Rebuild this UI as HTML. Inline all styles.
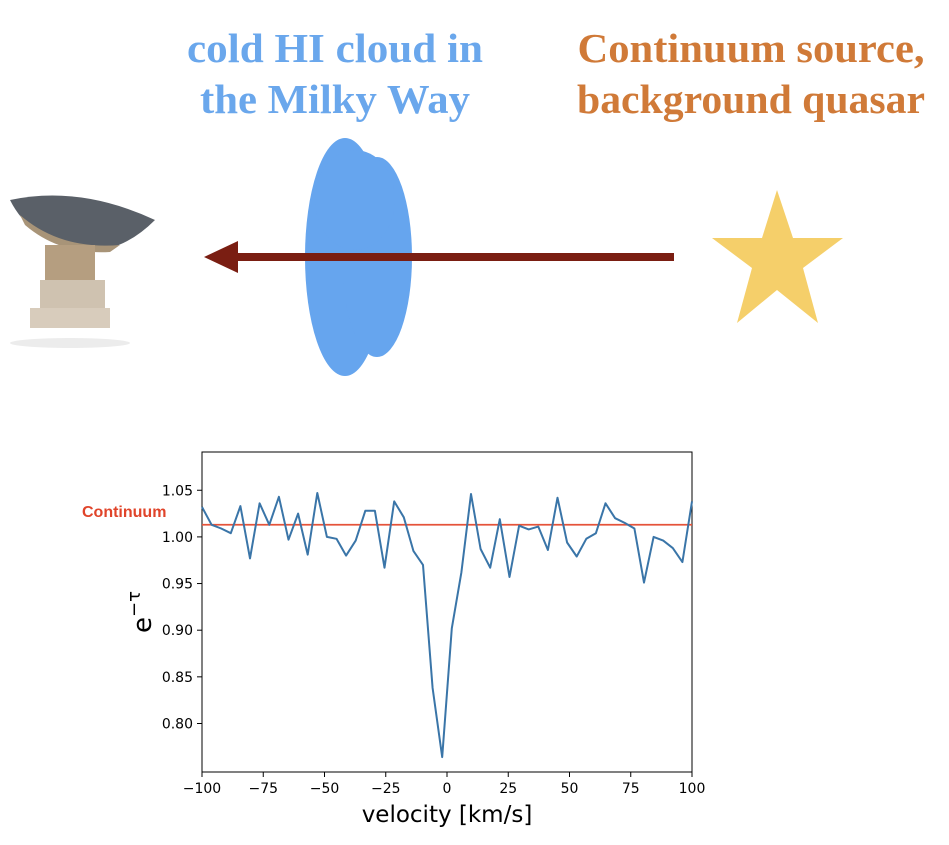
<!DOCTYPE html>
<html><head><meta charset="utf-8"><style>
html,body{margin:0;padding:0;background:#fff;}
svg{display:block;}
</style></head><body>
<svg width="949" height="845" viewBox="0 0 949 845" xmlns="http://www.w3.org/2000/svg">
  <text x="335" y="62" text-anchor="middle" textLength="296" lengthAdjust="spacingAndGlyphs" font-family="Liberation Serif, serif" font-weight="bold" font-size="41" fill="#6aa7ec">cold HI cloud in</text>
  <text x="335" y="113" text-anchor="middle" textLength="270" lengthAdjust="spacingAndGlyphs" font-family="Liberation Serif, serif" font-weight="bold" font-size="41" fill="#6aa7ec">the Milky Way</text>
  <text x="751" y="62" text-anchor="middle" textLength="347" lengthAdjust="spacingAndGlyphs" font-family="Liberation Serif, serif" font-weight="bold" font-size="41" fill="#d07a38">Continuum source,</text>
  <text x="751" y="113" text-anchor="middle" textLength="348" lengthAdjust="spacingAndGlyphs" font-family="Liberation Serif, serif" font-weight="bold" font-size="41" fill="#d07a38">background quasar</text>

  <g>
    <ellipse cx="70" cy="343" rx="60" ry="5" fill="#ececec"/>
    <path d="M10 200 Q80 185 155 220 Q120 255 80 250 Q30 240 10 200 Z" fill="#5a6068"/>
    <path d="M20 215 Q60 250 120 245 L110 252 Q60 255 25 225 Z" fill="#a89478"/>
    <rect x="45" y="245" width="50" height="40" fill="#b59e80"/>
    <rect x="40" y="280" width="65" height="30" fill="#cfc2b0"/>
    <rect x="30" y="308" width="80" height="20" fill="#d8ccbc"/>
  </g>

  <g>
    <ellipse cx="345" cy="257" rx="40" ry="119" fill="#66a5ee"/>
    <ellipse cx="377" cy="257" rx="35" ry="100" fill="#66a5ee"/>
    <ellipse cx="355" cy="200" rx="40" ry="50" fill="#66a5ee"/>
  </g>

  <g>
    <rect x="232" y="253" width="442" height="8" fill="#7a1e12"/>
    <polygon points="204,257 238,241 238,273" fill="#7a1e12"/>
  </g>

  <polygon fill="#f5cf6a"
    points="777,190 793,238 843,238 803,268 818,323 777,290 737,323 752,268 712,238 762,238"/>

  <g id="chart"></g>
</svg>
<script>
const velocityRange = [-100, 100];
const yRange = [0.748, 1.091];
const xTicks = [-100, -75, -50, -25, 0, 25, 50, 75, 100];
const yTicks = [0.80, 0.85, 0.90, 0.95, 1.00, 1.05];
const yTickLabels = ["0.80", "0.85", "0.90", "0.95", "1.00", "1.05"];
const continuumLevel = 1.013;
const absorption = [1.032,1.013,1.009,1.004,1.033,0.977,1.036,1.013,1.043,0.997,1.025,0.981,1.047,1.000,0.998,0.980,0.996,1.028,1.028,0.967,1.038,1.021,0.985,0.970,0.838,0.764,
0.902,0.962,1.046,0.987,0.967,1.019,0.957,1.012,1.008,1.011,0.986,1.042,0.994,0.979,0.998,1.004,1.036,1.020,1.015,1.009,0.951,1.000,0.996,0.988,0.973,1.038];

const NS = "http://www.w3.org/2000/svg";
const g = document.getElementById('chart');
const L = 202, R = 692, T = 452, B = 772;
function xs(v){ return L + (v - velocityRange[0]) / (velocityRange[1] - velocityRange[0]) * (R - L); }
function ys(v){ return B - (v - yRange[0]) / (yRange[1] - yRange[0]) * (B - T); }
function mk(tag, attrs){ const e = document.createElementNS(NS, tag); for (const k in attrs) e.setAttribute(k, attrs[k]); g.appendChild(e); return e; }

const frame = mk('rect', {x:L, y:T, width:R-L, height:B-T, fill:'none', stroke:'#000', 'stroke-width':1});



xTicks.forEach(t => {
  const tk = mk('line', {x1:xs(t), x2:xs(t), y1:B, y2:B+5, stroke:'#000'});
  
  
  const lb = mk('text', {x:xs(t), y:B+21, 'text-anchor':'middle', 'font-family':'DejaVu Sans, sans-serif', 'font-size':14, fill:'#000'});
  lb.textContent = (t < 0 ? '\u2212' + Math.abs(t) : String(t));
  
  
});
yTicks.forEach((t, i) => {
  const tk = mk('line', {x1:L-5, x2:L, y1:ys(t), y2:ys(t), stroke:'#000'});
  
  
  const lb = mk('text', {x:L-9, y:ys(t)+5, 'text-anchor':'end', 'font-family':'DejaVu Sans, sans-serif', 'font-size':14, fill:'#000'});
  lb.textContent = yTickLabels[i];
  
  
});

const cont = mk('line', {x1:L, x2:R, y1:ys(continuumLevel), y2:ys(continuumLevel), stroke:'#e5533a', 'stroke-width':1.8});



const n = absorption.length;
const pts = absorption.map((v, i) => xs(velocityRange[0] + i * (velocityRange[1] - velocityRange[0]) / (n - 1)).toFixed(1) + ',' + ys(v).toFixed(1)).join(' ');
const line = mk('polyline', {points:pts, fill:'none', stroke:'#3a75a8', 'stroke-width':2, 'stroke-linejoin':'round'});



const cl = mk('text', {x:82, y:517, 'font-family':'Liberation Sans, sans-serif', 'font-weight':'bold', 'font-size':16, fill:'#e0442a'});
cl.textContent = 'Continuum';



const yl = mk('text', {transform:'translate(151,612) rotate(-90)', 'text-anchor':'middle', 'font-family':'DejaVu Sans, sans-serif', 'font-size':26, fill:'#000'});
yl.innerHTML = 'e<tspan dy="-11" font-size="18">\u2212\u03c4</tspan>';



const xl = mk('text', {x:447, y:822, 'text-anchor':'middle', 'font-family':'DejaVu Sans, sans-serif', 'font-size':23, fill:'#000'});
xl.textContent = 'velocity [km/s]';


</script>
</body></html>
